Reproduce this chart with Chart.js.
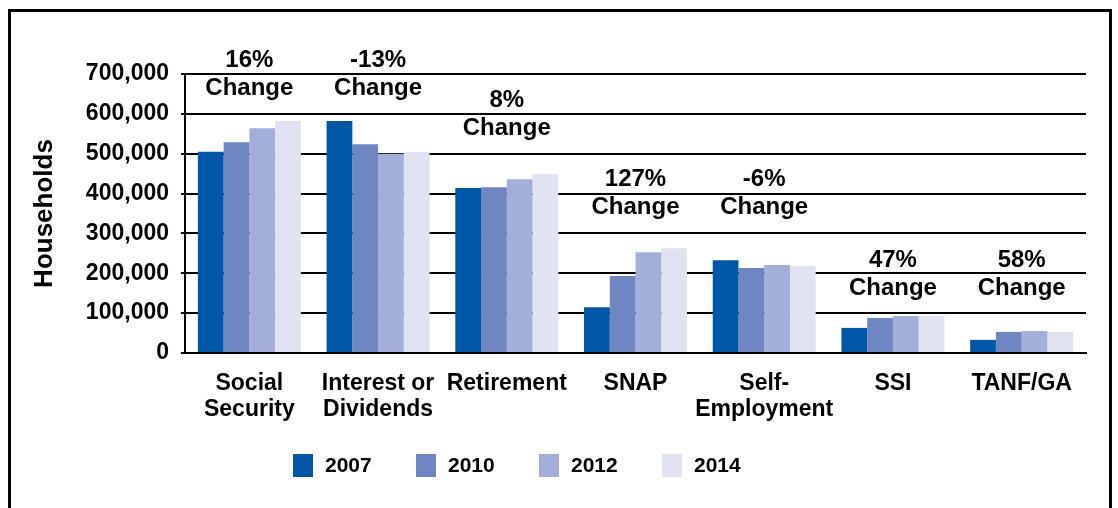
<!DOCTYPE html>
<html>
<head>
<meta charset="utf-8">
<script src="https://cdn.jsdelivr.net/npm/chart.js@4.4.1/dist/chart.umd.min.js"></script>
<style>
  html, body { margin: 0; padding: 0; background: #fff; overflow: hidden; }
  #wrap { position: relative; width: 1118px; height: 508px; }
  #frame {
    position: absolute; left: 8px; top: 9px; width: 1104px; height: 520px;
    border: 3px solid #000; box-sizing: border-box; pointer-events: none;
  }
  canvas { position: absolute; left: 0; top: 0; }
</style>
</head>
<body>
<div id="wrap">
  <canvas id="incomeChart" width="1118" height="508"></canvas>
  <div id="frame"></div>
</div>
<script>
// Categories and values (households)
const categories = [
  ['Social', 'Security'],
  ['Interest or', 'Dividends'],
  'Retirement',
  'SNAP',
  ['Self-', 'Employment'],
  'SSI',
  'TANF/GA'
]
const years = ['2007', '2010', '2012', '2014']
const values2007 = [505000, 582000, 414000, 115000, 233000, 63000, 33000]
const values2010 = [529000, 524000, 416000, 193000, 213000, 88000, 53000]
const values2012 = [564000, 500000, 436000, 253000, 221000, 93000, 55000]
const values2014 = [582000, 504000, 449000, 263000, 218000, 93000, 53000]
const changeLabels = ['16%', '-13%', '8%', '127%', '-6%', '47%', '58%']

const colors = ['#0057A8', '#6F86C3', '#A4AFD9', '#E1E3F3']
const FONT = '"Liberation Sans", Arial, sans-serif'

// where the "Change" line sits, in axis units
const changeLevels = [665000, 665000, 564000, 366000, 366000, 163000, 163000]

const changePlugin = {
  id: 'changeLabels',
  afterDatasetsDraw(chart) {
    const { ctx, scales } = chart
    ctx.save()
    ctx.fillStyle = '#000'
    ctx.font = 'bold 24px ' + FONT
    ctx.textAlign = 'center'
    ctx.textBaseline = 'middle'
    changeLabels.forEach((txt, i) => {
      const x = scales.x.getPixelForValue(i)
      const y = scales.y.getPixelForValue(changeLevels[i])
      ctx.fillText(txt, x, y - 28)
      ctx.fillText('Change', x, y)
    })
    ctx.restore()
  }
}

const legendPlugin = {
  id: 'bottomLegend',
  afterDraw(chart) {
    const { ctx } = chart
    ctx.save()
    ctx.font = 'bold 21px ' + FONT
    ctx.textBaseline = 'middle'
    ctx.textAlign = 'left'
    chart.data.datasets.forEach((ds, i) => {
      const x = 293 + i * 123
      ctx.fillStyle = ds.backgroundColor
      ctx.fillRect(x, 454, 20, 23)
      ctx.fillStyle = '#000'
      ctx.fillText(ds.label, x + 32, 466)
    })
    ctx.restore()
  }
}

const datasets = [values2007, values2010, values2012, values2014].map((vals, i) => ({
  label: years[i],
  data: vals,
  backgroundColor: colors[i],
  borderWidth: 0,
  categoryPercentage: 0.8,
  barPercentage: 1.0
}))

const ctx = document.getElementById('incomeChart').getContext('2d')
new Chart(ctx, {
  type: 'bar',
  data: { labels: categories, datasets: datasets },
  options: {
    responsive: false,
    animation: false,
    layout: { padding: { top: 74, right: 32, bottom: 60, left: 0 } },
    plugins: {
      legend: { display: false },
      tooltip: { enabled: false }
    },
    scales: {
      x: {
        grid: { display: false },
        border: { display: true, color: '#000', width: 2 },
        ticks: {
          color: '#000',
          font: { family: FONT, size: 23, weight: 'bold', lineHeight: 1.13 },
          padding: 10,
          maxRotation: 0,
          autoSkip: false
        },
        afterFit(scale) { scale.height = 95 }
      },
      y: {
        min: 0,
        max: 700000,
        ticks: {
          stepSize: 100000,
          color: '#000',
          font: { family: FONT, size: 23, weight: 'bold' },
          padding: 12,
          callback: (v) => v.toLocaleString('en-US')
        },
        grid: { color: '#000', lineWidth: 2, tickLength: 4 },
        border: { display: true, color: '#000', width: 2 },
        title: {
          display: true,
          text: 'Households',
          color: '#000',
          font: { family: FONT, size: 26, weight: 'bold' },
          padding: { top: 29, bottom: 0 }
        },
        afterFit(scale) { scale.width = 185 }
      }
    }
  },
  plugins: [changePlugin, legendPlugin]
})
</script>
</body>
</html>
